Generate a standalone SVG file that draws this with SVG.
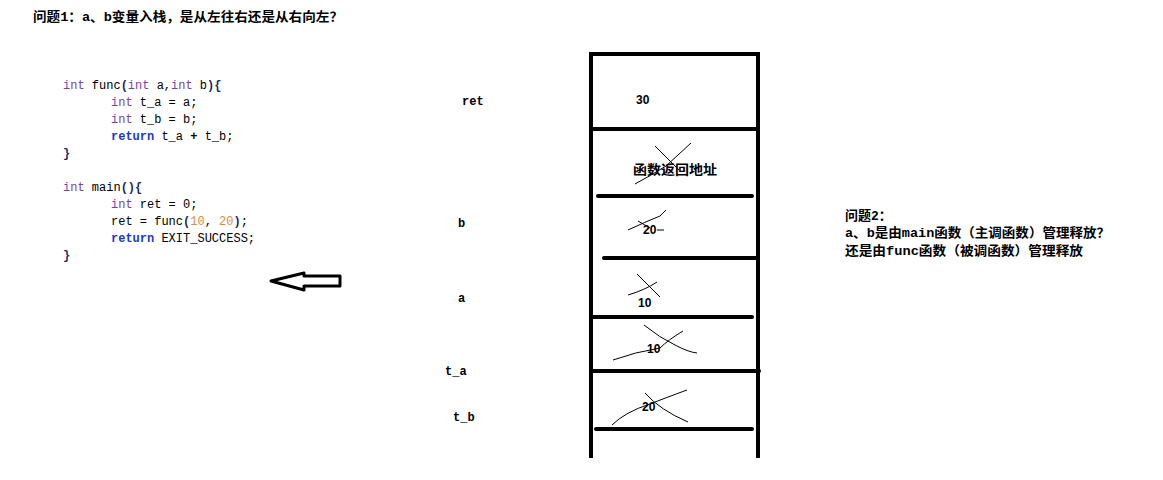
<svg xmlns="http://www.w3.org/2000/svg" width="1163" height="480" viewBox="0 0 1163 480">
<style>
.cjk{font-family:"Liberation Mono","Noto Sans CJK SC",monospace;font-weight:bold;font-size:13px;fill:#000}
.code{font-family:"Liberation Mono",monospace;font-size:12px;fill:#000}
.kw{fill:#7b3fa8}
.ret{fill:#1c3cc0;font-weight:bold}
.num{fill:#e08a3c}
.br{fill:#1a2a5a;font-weight:bold}
.lbl{font-family:"Liberation Mono",monospace;font-weight:bold;font-size:12px;fill:#000}
.val{font-family:"Liberation Sans",sans-serif;font-weight:bold;font-size:12px;fill:#000}
.wall{stroke:#000;stroke-width:4;fill:none}
.bar{stroke:#000;stroke-width:4;stroke-linecap:round;fill:none}
.x{stroke:#000;stroke-width:1;fill:none}
</style>
<rect width="1163" height="480" fill="#fff"/>
<g id="title1">
<text class="cjk" x="33" y="21" textLength="310" lengthAdjust="spacingAndGlyphs">问题1：a、b变量入栈，是从左往右还是从右向左？</text>
</g>
<g id="code">
<text class="code" x="63" y="89"><tspan class="kw">int</tspan> func<tspan class="br">(</tspan><tspan class="kw">int</tspan> a,<tspan class="kw">int</tspan> b<tspan class="br">){</tspan></text>
<text class="code" x="111" y="106"><tspan class="kw">int</tspan> t_a = a;</text>
<text class="code" x="111" y="123"><tspan class="kw">int</tspan> t_b = b;</text>
<text class="code" x="111" y="140"><tspan class="ret">return</tspan> t_a <tspan font-weight="bold">+</tspan> t_b;</text>
<text class="code br" x="63" y="157">}</text>
<text class="code" x="63" y="191"><tspan class="kw">int</tspan> main<tspan class="br">(){</tspan></text>
<text class="code" x="111" y="208"><tspan class="kw">int</tspan> ret = 0;</text>
<text class="code" x="111" y="225">ret = func<tspan class="br">(</tspan><tspan class="num">10</tspan>, <tspan class="num">20</tspan><tspan class="br">)</tspan>;</text>
<text class="code" x="111" y="242"><tspan class="ret">return</tspan> EXIT_SUCCESS;</text>
<text class="code br" x="63" y="259">}</text>
</g>
<g id="arrow">
<polygon points="271,281 304,273 304,276 340,276 340,286 304,286 304,290" fill="#fff" stroke="#000" stroke-width="3" stroke-linejoin="round"/>
</g>
<g id="stack">
<line class="wall" x1="591" y1="52" x2="591" y2="458"/>
<line class="wall" x1="758" y1="52" x2="758" y2="458"/>
<line class="wall" x1="589" y1="54" x2="760" y2="54"/>
<line class="wall" x1="591" y1="129" x2="758" y2="129"/>
<line class="bar" x1="598" y1="196" x2="752" y2="196"/>
<line class="bar" x1="604" y1="258" x2="758" y2="258"/>
<line class="bar" x1="592" y1="317" x2="752" y2="317"/>
<line class="bar" x1="592" y1="371" x2="759" y2="371"/>
<line class="bar" x1="596" y1="429" x2="752" y2="429"/>
</g>
<g id="cell-ret">
<text class="val" x="636" y="104">30</text>
</g>
<g id="cell-retaddr">
<text class="cjk" x="633" y="174" font-size="14" textLength="84" lengthAdjust="spacingAndGlyphs">函数返回地址</text>
<path class="x" d="M655,146 L679,170"/>
<path class="x" d="M691,143 L666,166 Q650,176 635,184"/>
</g>
<g id="cell-b">
<text class="val" x="643" y="234">20</text>
<path class="x" d="M666,210 L660,216 Q645,222 628,230"/>
<path class="x" d="M638,221 L650,228"/>
<path class="x" d="M657,230 L664,230"/>
</g>
<g id="cell-a">
<text class="val" x="638" y="307">10</text>
<path class="x" d="M637,274 L660,297"/>
<path class="x" d="M657,282 Q645,290 628,295"/>
</g>
<g id="cell-ta">
<text class="val" x="647" y="353">10</text>
<path class="x" d="M644,325 Q660,338 675,345 Q688,352 697,353"/>
<path class="x" d="M683,331 Q668,340 660,348 Q635,352 613,360"/>
</g>
<g id="cell-tb">
<text class="val" x="642" y="411">20</text>
<path class="x" d="M645,393 Q660,410 688,422"/>
<path class="x" d="M687,390 Q665,398 650,404 Q625,412 612,425"/>
</g>
<g id="labels">
<text class="lbl" x="462" y="105">ret</text>
<text class="lbl" x="458" y="227">b</text>
<text class="lbl" x="458" y="302">a</text>
<text class="lbl" x="445" y="375">t_a</text>
<text class="lbl" x="453" y="421">t_b</text>
</g>
<g id="question2">
<text class="cjk" x="845" y="220">问题2：</text>
<text class="cjk" x="845" y="237" textLength="265" lengthAdjust="spacingAndGlyphs">a、b是由main函数（主调函数）管理释放？</text>
<text class="cjk" x="845" y="255" textLength="238" lengthAdjust="spacingAndGlyphs">还是由func函数（被调函数）管理释放</text>
</g>
</svg>
